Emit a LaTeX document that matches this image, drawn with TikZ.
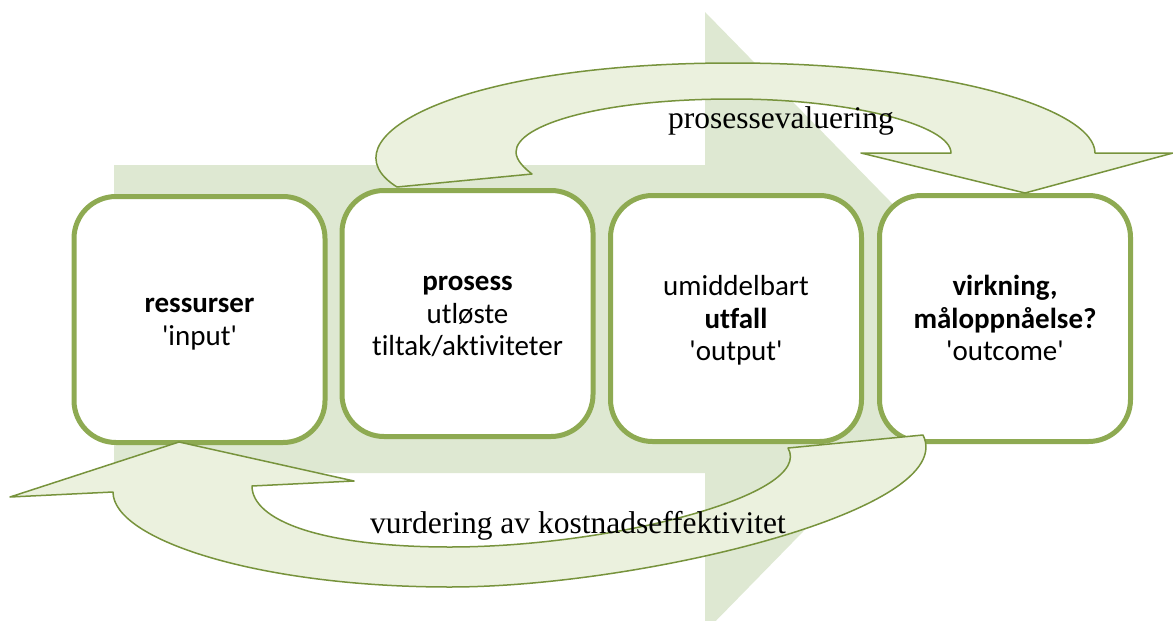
\documentclass[tikz,border=0pt]{standalone}
\usepackage{fontspec}
\setmainfont{Liberation Serif}
\newfontfamily\boxfont{Carlito}[Ligatures=NoCommon]
\usetikzlibrary{positioning}
\definecolor{bgfill}{HTML}{DEE8D2}
\definecolor{evalfill}{HTML}{EBF1DE}
\definecolor{evalline}{HTML}{77933C}
\definecolor{boxline}{HTML}{8EAA52}
\newcommand\steptop{\rule{0pt}{27pt}}
\newcommand\stepbot{\rule[-8pt]{0pt}{8pt}}
\newcommand\q{\textquotesingle}

\begin{document}
\begin{tikzpicture}[
    x=1pt, y=-1pt,
    stepbox/.style={draw=boxline, line width=5pt, fill=white, rounded corners=42pt,
      minimum width=251pt, minimum height=246pt, align=center,
      font=\boxfont\fontsize{29}{32.5}\selectfont},
    evalarrow/.style={fill=evalfill, draw=evalline, line width=1.5pt, line join=round},
    evallabel/.style={font=\fontsize{31.5}{36}\selectfont, inner sep=0pt, anchor=base}
  ]
  \useasboundingbox (0,0) rectangle (1173,621);
  % big arrow behind the boxes
  \begin{scope}
    \clip (0,0) rectangle (1173,621);
    \fill[bgfill] (114,165) -- (705,165) -- (705,12) -- (1008,322)
      -- (705,632) -- (705,473) -- (114,473) -- cycle;
  \end{scope}
  % the four steps
  \node[stepbox] (ressurser) at (199.5,319.5) {\steptop\textbf{ressurser}\\\q input\q\stepbot};
  \node[stepbox] (prosess) at (467.5,313.5) {\steptop\textbf{prosess}\\utløste\\tiltak/aktiviteter\stepbot};
  \node[stepbox] (utfall) at (736,318.5) {\steptop umiddelbart\\\textbf{utfall}\\\q output\q\stepbot};
  \node[stepbox] (virkning) at (1005,318.5) {\steptop\textbf{virkning,}\\\textbf{måloppnåelse?}\\\q outcome\q\stepbot};
  % upper loop
  \draw[evalarrow] (397,187) .. controls (322,140) and (450,63) .. (733,63)
    .. controls (950,63) and (1095,110) .. (1095,153)
    -- (1173,153) -- (1025,193) -- (861,153) -- (951,153)
    .. controls (951,125) and (850,99) .. (733,99)
    .. controls (600,99) and (516,125) .. (516,152)
    .. controls (516,160) and (524,168) .. (532,174) -- cycle;
  % lower loop
  \draw[evalarrow] (179,442) -- (354,481) -- (252,486)
    .. controls (252,520) and (320,547) .. (450,547)
    .. controls (610,547) and (815,495) .. (788,448)
    -- (923,435)
    .. controls (960,510) and (640,587) .. (450,587)
    .. controls (260,587) and (113,540) .. (113,492)
    -- (10,497) -- cycle;
  \node[evallabel] (proseval) at (781,128) {prosessevaluering};
  \node[evallabel] (kostnad) at (578,533) {vurdering av kostnadseffektivitet};
\end{tikzpicture}
\end{document}
